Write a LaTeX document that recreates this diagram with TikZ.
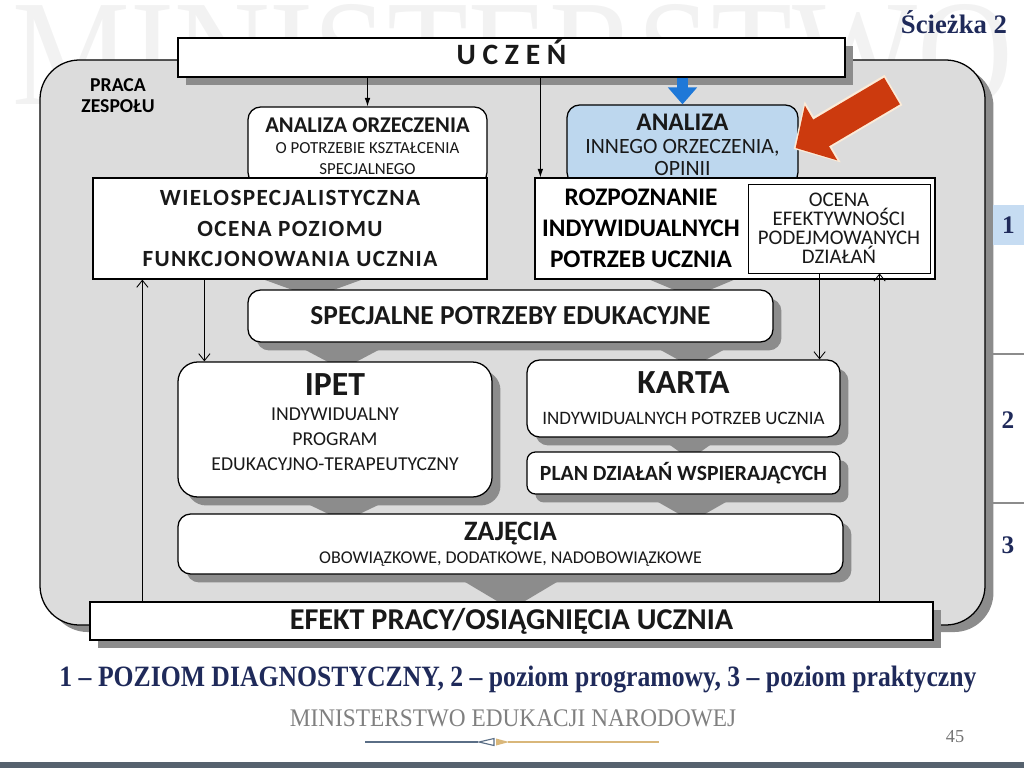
\documentclass[tikz,border=0pt]{standalone}
\usepackage{fontspec}
\setmainfont{Carlito}
\newfontfamily\serifrm{Liberation Serif}
\usetikzlibrary{positioning,arrows.meta,shadows,calc,backgrounds}
\definecolor{panelgray}{HTML}{DCDCDC}
\definecolor{shadowgray}{HTML}{8C8C8C}
\definecolor{anablue}{HTML}{BDD7EE}
\definecolor{arrowblue}{HTML}{1E78D8}
\definecolor{arrowred}{HTML}{CC3A0E}
\definecolor{cream}{HTML}{FBEBD8}
\definecolor{navytext}{HTML}{1F2A5A}
\definecolor{levelblue}{HTML}{C6DCF2}
\definecolor{decoblue}{HTML}{5A6E86}
\definecolor{decotan}{HTML}{D9B77A}
\definecolor{stripe}{HTML}{56626E}
\pgfdeclarelayer{back}
\pgfdeclarelayer{mid}
\pgfsetlayers{back,mid,main}
\newcommand\fs[2]{\fontsize{#1}{#2}\selectfont}
\tikzset{
  boxsize/.style 2 args={minimum width=#1*0.025cm, minimum height=#2*0.025cm},
  shadowed/.style={drop shadow={shadow xshift=6pt, shadow yshift=-6pt, fill=shadowgray, opacity=1}},
  panel/.style={draw, line width=0.9pt, fill=panelgray, rounded corners=28pt,
    drop shadow={shadow xshift=6pt, shadow yshift=-5pt, fill=shadowgray, opacity=1}},
  plainbox/.style={draw, line width=0.9pt, fill=white, align=center, inner sep=0pt, text=black!90},
  roundbox/.style={plainbox, rounded corners=9pt},
  chevron/.style={fill=black!45},
  thinarrow/.style={-{Latex[length=6pt,width=4pt]}, line width=0.6pt},
  openarrow/.style={-{Straight Barb[length=5pt,width=8pt]}, line width=0.6pt},
  bluearrow/.style={-{Triangle[length=12pt,width=20pt]}, line width=7.5pt, draw=arrowblue},
  redglow/.style={-{Triangle[length=24pt,width=49pt]}, line width=25pt, draw=cream},
  redarrow/.style={-{Triangle[length=21pt,width=44pt]}, line width=22pt, draw=arrowred},
  levelline/.style={draw=shadowgray, line width=2pt},
  levelnum/.style={font=\serifrm\fs{18}{20}\bfseries, text=navytext}
}

\begin{document}
\begin{tikzpicture}[x=0.025cm, y=-0.025cm]
  \useasboundingbox (0,0) rectangle (1024,768);
  \begin{pgfonlayer}{back}
    \node[text=black!5, anchor=north west, inner sep=0pt] (mark) at (12,4) {\serifrm\resizebox{1000\dimexpr0.025cm\relax}{100\dimexpr0.025cm\relax}{MINISTERSTWO}};
    \node[panel, boxsize={945}{565}] (panel) at (512.5,342.5) {};
  \end{pgfonlayer}
  \node[font=\serifrm\fs{19}{22}\bfseries, text=navytext, anchor=east] (path) at (1012,22) {Ścieżka 2};
  \node[font=\fs{14}{15}\bfseries, align=center] (praca) at (118,96) {PRACA\\ZESPOŁU};

  % boxes
  \node[plainbox, shadowed, boxsize={667}{39}, text depth=7pt, font=\fs{21}{24}\bfseries] (uczen) at (511.5,57.5) {U C Z E Ń};
  \node[roundbox, boxsize={239}{78}, font=\fs{12}{15}] (analizaorz) at (367.5,146) {{\fs{16}{18}\bfseries ANALIZA ORZECZENIA}\\O POTRZEBIE KSZTAŁCENIA\\SPECJALNEGO};
  \node[roundbox, fill=anablue, boxsize={231}{80}, font=\fs{15.5}{16}] (analiza) at (682.5,145) {{\fs{18}{20}\bfseries ANALIZA}\\INNEGO ORZECZENIA,\\OPINII};
  \node[plainbox, boxsize={394}{101}, font=\fs{16.5}{22}\bfseries\addfontfeatures{LetterSpace=6}] (wielo) at (290,228.5) {WIELOSPECJALISTYCZNA\\OCENA POZIOMU\\FUNKCJONOWANIA UCZNIA};
  \node[plainbox, boxsize={400}{101}] (rozp) at (735,228.5) {};
  \node[font=\fs{18}{22}\bfseries, align=center] (rozptext) at (641,228) {ROZPOZNANIE\\INDYWIDUALNYCH\\POTRZEB UCZNIA};
  \node[plainbox, line width=0.6pt, boxsize={182}{89}, font=\fs{14.8}{13.5}] (ocena) at (839,228.5) {OCENA\\EFEKTYWNOŚCI\\PODEJMOWANYCH\\DZIAŁAŃ};
  \node[roundbox, shadowed, boxsize={525}{52}, font=\fs{19.5}{22}\bfseries] (spe) at (510.5,316) {SPECJALNE POTRZEBY EDUKACYJNE};
  \node[roundbox, shadowed, rounded corners=14pt, boxsize={314}{135}, text depth=11pt, font=\fs{14}{17.8}] (ipet) at (335,429.5) {{\fs{24}{30}\bfseries IPET}\\INDYWIDUALNY\\PROGRAM\\EDUKACYJNO-TERAPEUTYCZNY};
  \node[roundbox, shadowed, boxsize={313}{77}, font=\fs{13.5}{22}] (karta) at (683.5,398.5) {{\fs{24}{26}\bfseries KARTA}\\INDYWIDUALNYCH POTRZEB UCZNIA};
  \node[roundbox, shadowed, rounded corners=6pt, boxsize={313}{42}, font=\fs{15.4}{18}\bfseries] (plan) at (683.5,473) {PLAN DZIAŁAŃ WSPIERAJĄCYCH};
  \node[roundbox, shadowed, boxsize={665}{60}, font=\fs{12.8}{16}] (zaj) at (510.5,544) {{\fs{20}{22}\bfseries ZAJĘCIA}\\OBOWIĄZKOWE, DODATKOWE, NADOBOWIĄZKOWE};
  \node[plainbox, shadowed, boxsize={843}{38}, font=\fs{21.5}{24}\bfseries] (efekt) at (511.5,621) {EFEKT PRACY/OSIĄGNIĘCIA UCZNIA};

  % grey chevrons between levels
  \begin{pgfonlayer}{mid}
    \foreach \a/\b/\cx/\hw in {wielo/spe/313/60, rozp/spe/692/52, spe/ipet/342/58, spe/karta/692/52,
        karta/plan/690/36, ipet/zaj/344/58, plan/zaj/692/54, zaj/efekt/511/65}{
      \coordinate (cx) at (\cx,0);
      \fill[chevron] ($(\a.south -| cx)+(-\hw,-4)$) -- ($(\a.south -| cx)+(\hw,-4)$) -- ($(\b.north -| cx)+(0,8)$) -- cycle;
    }
  \end{pgfonlayer}

  % thin arrows
  \coordinate (rin) at ($(rozp.north west)+(6,0)$);
  \coordinate (wdown) at ($(wielo.south west)+(112,0)$);
  \coordinate (wup) at ($(wielo.south west)+(50,0)$);
  \coordinate (odown) at ($(ocena.south west)+(72,0)$);
  \coordinate (oup) at ($(ocena.south west)+(132,0)$);
  \draw[thinarrow] (uczen.south -| analizaorz.north) -- (analizaorz.north);
  \draw[thinarrow] (uczen.south -| rin) -- (rin);
  \draw[openarrow] (wdown) -- (wdown |- ipet.north);
  \draw[openarrow] (odown) -- (odown |- karta.north);
  \draw[openarrow] (efekt.north -| wup) -- (wup);
  \draw[openarrow] (efekt.north -| oup) -- (oup);

  % thick arrows
  \draw[bluearrow] (uczen.south -| analiza.north) -- (analiza.north);
  \coordinate (redtail) at (892,91);
  \coordinate (redtip) at ($(analiza.east)+(-3,3)$);
  \draw[redglow] ($(redtail)+(1.5,-1)$) -- ($(redtip)+(-2,1)$);
  \draw[redarrow] (redtail) -- (redtip);

  % levels on the right
  \draw[levelline] (988,354) -- (1024,354);
  \draw[levelline] (988,503) -- (1024,503);
  \node[levelnum, fill=levelblue, boxsize={31}{40}] (lev1) at (1008.5,225) {1};
  \node[levelnum] (lev2) at (1008,420) {2};
  \node[levelnum] (lev3) at (1008,545) {3};

  % footer
  \node[font=\serifrm\fs{21}{24}\bfseries, text=navytext] (legend) at (518,680) {\scalebox{0.87}[1]{1 – POZIOM DIAGNOSTYCZNY, 2 – poziom programowy, 3 – poziom praktyczny}};
  \node[font=\serifrm\fs{18}{20}, text=black!50] (ministry) at (513,718) {\scalebox{0.92}[1]{MINISTERSTWO EDUKACJI NARODOWEJ}};
  \draw[decoblue, line width=0.8pt] (365,742) -- (478,742);
  \draw[decoblue, line width=0.8pt] (479,742) -- (494,738.5) -- (494,745.5) -- cycle;
  \fill[decotan] (509,742) -- (496,738.5) -- (496,745.5) -- cycle;
  \draw[decotan, line width=0.8pt] (508,742) -- (659,742);
  \node[font=\serifrm\fs{13}{14}, text=black!55] (pagenum) at (955,737) {45};
  \fill[stripe] (0,762) rectangle (1024,768);
\end{tikzpicture}
\end{document}
